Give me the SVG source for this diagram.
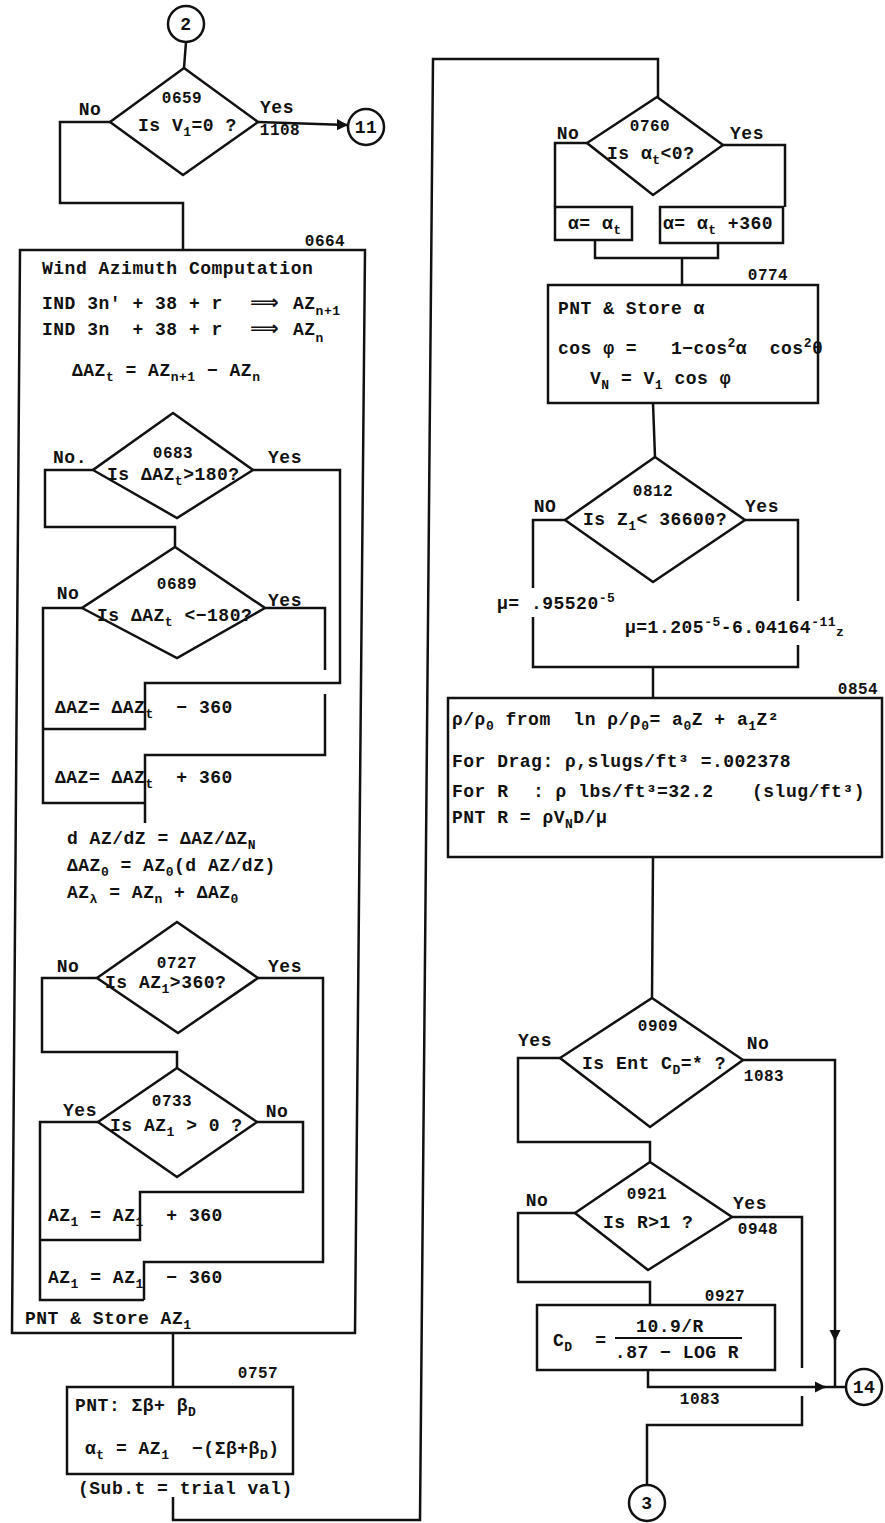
<svg xmlns="http://www.w3.org/2000/svg" width="885" height="1523" viewBox="0 0 885 1523">
<defs>
<style>
.t{font-family:"Liberation Mono","DejaVu Sans Mono",monospace;font-weight:bold;font-size:18px;letter-spacing:0.5px;fill:#111}
.c{text-anchor:middle}
.n{font-size:16px}
.s{font-size:13px}
.ar{font-family:"DejaVu Sans",sans-serif;font-size:20px;letter-spacing:0}
.ln{fill:none;stroke:#111;stroke-width:2.5}
.sh{fill:none;stroke:#111;stroke-width:2.5}
</style>
<marker id="ah" viewBox="0 0 10 10" refX="9" refY="5" markerWidth="4.5" markerHeight="4.5" orient="auto" markerUnits="strokeWidth"><path d="M0,0L10,5L0,10z" fill="#111"/></marker>
</defs>
<rect width="885" height="1523" fill="#fff"/>

<g id="connectors" class="ln">
<path d="M186,42 L184,68"/>
<path d="M110,122 H60 V203 H183 V250"/>
<path d="M258,122 L347,125" marker-end="url(#ah)"/>
<path d="M93,470 H45 V527 H175 V547"/>
<path d="M253,470 H340 V683 H145 V729 H43"/>
<path d="M82,608 H43 V803 H145"/>
<path d="M265,608 H325 V670"/>
<path d="M325,694 V755 H145 V823"/>
<path d="M97,978 H42 V1052 H177 V1068"/>
<path d="M258,978 H323 V1262 H144 V1300"/>
<path d="M98,1122 H40 V1300 H144"/>
<path d="M257,1122 H303 V1192 H140 V1240 H40"/>
<path d="M173,1333 V1387"/>
<path d="M173,1497 V1520 H420 L433,59 H658 V97"/>
<path d="M587,143 H555 V207"/>
<path d="M723,145 H785 V207"/>
<path d="M595,240 V258 H718 V243"/>
<path d="M682,258 V285"/>
<path d="M653,403 L655,457"/>
<path d="M565,520 H533 V588"/>
<path d="M533,617 V667 H798 V645"/>
<path d="M798,601 V520 H745"/>
<path d="M653,667 V698"/>
<path d="M653,857 L652,998"/>
<path d="M560,1058 H518 V1142 H650 V1162"/>
<path d="M743,1060 H835 V1340" marker-end="url(#ah)"/>
<path d="M835,1338 V1387"/>
<path d="M575,1213 H518 V1282 H650 V1305"/>
<path d="M732,1217 H802 V1368"/>
<path d="M802,1396 V1425 H647 V1485"/>
<path d="M648,1370 V1387 H825" marker-end="url(#ah)"/>
<path d="M823,1387 H846"/>
</g>

<g id="c2"><circle class="sh" cx="186" cy="24" r="18"/><text class="t c" x="186" y="30">2</text></g>

<g id="d0659"><polygon class="sh" points="184,68 258,122 183,175 110,122"/>
<text class="t c n" x="182" y="103">0659</text>
<text class="t" x="138" y="131">Is V<tspan class="s" dy="5">1</tspan><tspan dy="-5">=0 ?</tspan></text>
<text class="t c" x="90" y="115">No</text>
<text class="t c" x="277" y="113">Yes</text>
<text class="t c n" x="280" y="135">1108</text></g>

<g id="c11"><circle class="sh" cx="366" cy="127" r="18"/><text class="t c" x="366" y="133">11</text></g>

<g id="b0664"><path class="sh" d="M20,250 H365 L355,1333 H12 Z"/>
<text class="t c n" x="325" y="246">0664</text>
<text class="t" x="42" y="274">Wind Azimuth Computation</text>
<text class="t" x="42" y="309" xml:space="preserve">IND 3n' + 38 + r<tspan class="ar" x="250">⟹</tspan><tspan x="293">AZ</tspan><tspan class="s" dy="6">n+1</tspan></text>
<text class="t" x="42" y="335" xml:space="preserve">IND 3n  + 38 + r<tspan class="ar" x="250">⟹</tspan><tspan x="293">AZ</tspan><tspan class="s" dy="7">n</tspan></text>
<text class="t" x="72" y="376">ΔAZ<tspan class="s" dy="5">t</tspan><tspan dy="-5"> = AZ</tspan><tspan class="s" dy="5">n+1</tspan><tspan dy="-5"> − AZ</tspan><tspan class="s" dy="5">n</tspan></text>
<text class="t" x="25" y="1324">PNT &amp; Store AZ<tspan class="s" dy="5">1</tspan></text>
</g>

<g id="d0683"><polygon class="sh" points="173,413 253,470 177,518 93,470"/>
<text class="t c n" x="173" y="458">0683</text>
<text class="t" x="107" y="480">Is ΔAZ<tspan class="s" dy="5">t</tspan><tspan dy="-5">&gt;180?</tspan></text>
<text class="t c" x="70" y="463">No.</text>
<text class="t c" x="285" y="463">Yes</text></g>

<g id="d0689"><polygon class="sh" points="175,547 265,608 177,658 82,608"/>
<text class="t c n" x="177" y="589">0689</text>
<text class="t" x="97" y="621" xml:space="preserve">Is ΔAZ<tspan class="s" dy="5">t</tspan><tspan dy="-5"> &lt;−180?</tspan></text>
<text class="t c" x="68" y="599">No</text>
<text class="t c" x="285" y="606">Yes</text></g>

<g id="s_sub360a"><text class="t" x="55" y="713" xml:space="preserve">ΔAZ= ΔAZ<tspan class="s" dy="5">t</tspan><tspan dy="-5">  − 360</tspan></text></g>
<g id="s_add360a"><text class="t" x="55" y="783" xml:space="preserve">ΔAZ= ΔAZ<tspan class="s" dy="5">t</tspan><tspan dy="-5">  + 360</tspan></text></g>

<g id="s_derivs">
<text class="t" x="67" y="844">d AZ/dZ = ΔAZ/ΔZ<tspan class="s" dy="5">N</tspan></text>
<text class="t" x="67" y="871">ΔAZ<tspan class="s" dy="5">0</tspan><tspan dy="-5"> = AZ</tspan><tspan class="s" dy="5">0</tspan><tspan dy="-5">(d AZ/dZ)</tspan></text>
<text class="t" x="67" y="898">AZ<tspan class="s" dy="5">λ</tspan><tspan dy="-5"> = AZ</tspan><tspan class="s" dy="5">n</tspan><tspan dy="-5"> + ΔAZ</tspan><tspan class="s" dy="5">0</tspan></text>
</g>

<g id="d0727"><polygon class="sh" points="177,922 258,978 178,1033 97,978"/>
<text class="t c n" x="177" y="968">0727</text>
<text class="t" x="105" y="988">Is AZ<tspan class="s" dy="5">1</tspan><tspan dy="-5">&gt;360?</tspan></text>
<text class="t c" x="68" y="972">No</text>
<text class="t c" x="285" y="972">Yes</text></g>

<g id="d0733"><polygon class="sh" points="177,1068 257,1122 177,1177 98,1122"/>
<text class="t c n" x="172" y="1106">0733</text>
<text class="t" x="110" y="1131" xml:space="preserve">Is AZ<tspan class="s" dy="5">1</tspan><tspan dy="-5"> &gt; 0 ?</tspan></text>
<text class="t c" x="80" y="1116">Yes</text>
<text class="t c" x="277" y="1117">No</text></g>

<g id="s_add360b"><text class="t" x="48" y="1221" xml:space="preserve">AZ<tspan class="s" dy="5">1</tspan><tspan dy="-5"> = AZ</tspan><tspan class="s" dy="5">1</tspan><tspan dy="-5">  + 360</tspan></text></g>
<g id="s_sub360b"><text class="t" x="48" y="1283" xml:space="preserve">AZ<tspan class="s" dy="5">1</tspan><tspan dy="-5"> = AZ</tspan><tspan class="s" dy="5">1</tspan><tspan dy="-5">  − 360</tspan></text></g>

<g id="b0757"><rect class="sh" x="67" y="1387" width="226" height="87"/>
<text class="t c n" x="258" y="1378">0757</text>
<text class="t" x="75" y="1411">PNT: Σβ+ β<tspan class="s" dy="5">D</tspan></text>
<text class="t" x="85" y="1454" xml:space="preserve">α<tspan class="s" dy="5">t</tspan><tspan dy="-5"> = AZ</tspan><tspan class="s" dy="5">1</tspan><tspan dy="-5">  −(Σβ+β</tspan><tspan class="s" dy="5">D</tspan><tspan dy="-5">)</tspan></text>
<text class="t" x="78" y="1494">(Sub.t = trial val)</text></g>

<g id="d0760"><polygon class="sh" points="657,97 723,145 653,195 587,143"/>
<text class="t c n" x="650" y="131">0760</text>
<text class="t" x="607" y="159">Is α<tspan class="s" dy="5">t</tspan><tspan dy="-5">&lt;0?</tspan></text>
<text class="t c" x="568" y="139">No</text>
<text class="t c" x="747" y="139">Yes</text></g>

<g id="b_alpha1"><rect class="sh" x="555" y="207" width="77" height="33"/>
<text class="t" x="568" y="229">α= α<tspan class="s" dy="5">t</tspan></text></g>
<g id="b_alpha2"><rect class="sh" x="660" y="207" width="123" height="36"/>
<text class="t" x="663" y="229">α= α<tspan class="s" dy="5">t</tspan><tspan dy="-5"> +360</tspan></text></g>

<g id="b0774"><rect class="sh" x="548" y="285" width="270" height="118"/>
<text class="t c n" x="768" y="280">0774</text>
<text class="t" x="558" y="314">PNT &amp; Store α</text>
<text class="t" x="558" y="354" xml:space="preserve">cos φ =   1−cos<tspan class="s" dy="-7">2</tspan><tspan dy="7">α  cos</tspan><tspan class="s" dy="-7">2</tspan><tspan dy="7">θ</tspan></text>
<text class="t" x="590" y="384">V<tspan class="s" dy="5">N</tspan><tspan dy="-5"> = V</tspan><tspan class="s" dy="5">1</tspan><tspan dy="-5"> cos φ</tspan></text></g>

<g id="d0812"><polygon class="sh" points="655,457 745,520 653,582 565,520"/>
<text class="t c n" x="653" y="496">0812</text>
<text class="t" x="583" y="525" xml:space="preserve">Is Z<tspan class="s" dy="5">1</tspan><tspan dy="-5">&lt; 36600?</tspan></text>
<text class="t c" x="545" y="512">NO</text>
<text class="t c" x="762" y="512">Yes</text></g>

<g id="s_mu1"><text class="t" x="497" y="609">μ= .95520<tspan class="s" dy="-7">-5</tspan></text></g>
<g id="s_mu2"><text class="t" x="625" y="633">μ=1.205<tspan class="s" dy="-7">-5</tspan><tspan dy="7">-6.04164</tspan><tspan class="s" dy="-7">-11</tspan><tspan class="s" dy="10">z</tspan></text></g>

<g id="b0854"><rect class="sh" x="448" y="698" width="434" height="159"/>
<text class="t c n" x="858" y="694">0854</text>
<text class="t" x="452" y="725" xml:space="preserve">ρ/ρ<tspan class="s" dy="5">0</tspan><tspan dy="-5"> from  ln ρ/ρ</tspan><tspan class="s" dy="5">0</tspan><tspan dy="-5">= a</tspan><tspan class="s" dy="5">0</tspan><tspan dy="-5">Z + a</tspan><tspan class="s" dy="5">1</tspan><tspan dy="-5">Z²</tspan></text>
<text class="t" x="452" y="767">For Drag: ρ,slugs/ft³ =.002378</text>
<text class="t" x="452" y="797">For R<tspan x="533">: ρ lbs/ft³</tspan><tspan x="657">=32.2</tspan><tspan x="752">(slug/ft³)</tspan></text>
<text class="t" x="452" y="823">PNT R = ρV<tspan class="s" dy="5">N</tspan><tspan dy="-5">D/μ</tspan></text></g>

<g id="d0909"><polygon class="sh" points="652,998 743,1060 650,1127 560,1058"/>
<text class="t c n" x="658" y="1031">0909</text>
<text class="t" x="582" y="1069">Is Ent C<tspan class="s" dy="5">D</tspan><tspan dy="-5">=* ?</tspan></text>
<text class="t c" x="535" y="1046">Yes</text>
<text class="t c" x="758" y="1049">No</text>
<text class="t c n" x="764" y="1081">1083</text></g>

<g id="d0921"><polygon class="sh" points="650,1162 732,1217 648,1270 575,1213"/>
<text class="t c n" x="647" y="1199">0921</text>
<text class="t" x="603" y="1228">Is R&gt;1 ?</text>
<text class="t c" x="537" y="1206">No</text>
<text class="t c" x="750" y="1209">Yes</text>
<text class="t c n" x="758" y="1234">0948</text></g>

<g id="b0927"><rect class="sh" x="537" y="1305" width="238" height="65"/>
<text class="t c n" x="725" y="1301">0927</text>
<text class="t" x="553" y="1346" xml:space="preserve">C<tspan class="s" dy="5">D</tspan><tspan dy="-5">  =</tspan></text>
<text class="t c" x="670" y="1332">10.9/R</text>
<line x1="615" y1="1338" x2="742" y2="1338" stroke="#111" stroke-width="2"/>
<text class="t c" x="677" y="1358">.87 − LOG R</text></g>

<g id="lbl1083"><text class="t c n" x="700" y="1404">1083</text></g>

<g id="c14"><circle class="sh" cx="864" cy="1387" r="18"/><text class="t c" x="864" y="1393">14</text></g>
<g id="c3"><circle class="sh" cx="647" cy="1503" r="18"/><text class="t c" x="647" y="1509">3</text></g>
</svg>
